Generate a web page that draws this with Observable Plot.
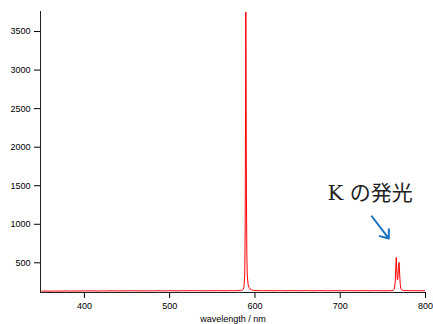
<!DOCTYPE html>
<html>
<head>
<meta charset="utf-8">
<script src="https://cdn.jsdelivr.net/npm/d3@7"></script>
<script src="https://cdn.jsdelivr.net/npm/@observablehq/plot@0.6"></script>
<style>
  html, body { margin: 0; padding: 0; background: #fff; }
  #chart svg { overflow: visible; display: block; }
</style>
</head>
<body>
<div id="chart"></div>
<script>
// Emission spectrum (wavelength in nm, intensity in counts)
const wavelength = [
  350, 355, 360, 365, 370, 375, 380, 385, 390, 395, 400, 405, 410, 415, 420, 425,
  430, 435, 440, 445, 450, 455, 460, 465, 470, 475, 480, 485, 490, 495, 500, 505,
  510, 515, 520, 525, 530, 535, 540, 545, 550, 555, 560, 565, 570, 575, 580, 583,
  585, 586, 587, 588, 588.5, 589, 589.3, 589.6, 590, 590.5, 591, 592, 593, 594,
  596, 598, 600, 605, 610, 615, 620, 625, 630, 635, 640, 645, 650, 655, 660, 665,
  670, 675, 680, 685, 690, 695, 700, 705, 710, 715, 720, 725, 730, 735, 740, 745,
  750, 755, 760, 762, 763.5, 764.5, 765.2, 765.7, 766.3, 767, 767.6, 768.3, 769,
  769.6, 770.3, 771, 772, 774, 776, 780, 785, 790, 795, 800
];
const intensity = [
  133, 134, 132, 135, 133, 134, 136, 133, 135, 134, 136, 135, 137, 134, 136, 135,
  137, 136, 135, 137, 136, 138, 136, 137, 135, 137, 136, 138, 137, 136, 138, 137,
  136, 138, 137, 139, 137, 138, 136, 138, 137, 139, 138, 137, 139, 138, 140, 142,
  146, 155, 180, 330, 900, 2600, 3755, 2900, 1400, 600, 330, 220, 180, 162,
  150, 143, 140, 139, 138, 139, 137, 138, 139, 137, 138, 139, 138, 137, 139, 138,
  137, 139, 138, 137, 138, 139, 137, 138, 139, 138, 137, 139, 138, 137, 139, 138,
  137, 138, 139, 142, 158, 250, 450, 570, 420, 280, 300, 440, 505,
  380, 230, 170, 150, 141, 139, 138, 139, 137, 138, 137
];

const xTicks = [400, 500, 600, 700, 800];
const yTicks = [500, 1000, 1500, 2000, 2500, 3000, 3500];
const xDomain = [348.5, 800];
const yDomain = [115, 3760];
const xLabel = "wavelength / nm";

// Annotation
const noteText = ["K の発光"];
const noteX = [735];
const noteY = [1400];
const arrowFrom = [[737, 1104]];
const arrowTo = [[757, 815]];

const spectrum = wavelength.map((w, i) => ({w, v: intensity[i]}));
const notes = noteText.map((t, i) => ({t, x: noteX[i], y: noteY[i]}));
const arrows = arrowFrom.map((f, i) => ({x1: f[0], y1: f[1], x2: arrowTo[i][0], y2: arrowTo[i][1]}));

const chart = Plot.plot({
  width: 433,
  height: 324,
  marginLeft: 40,
  marginRight: 8,
  marginTop: 11,
  marginBottom: 32,
  style: {fontFamily: "'Liberation Sans', Arial, sans-serif", fontSize: "9px", background: "#fff", color: "#000"},
  x: {domain: xDomain, ticks: xTicks, tickSize: 6, tickPadding: 4, tickFormat: d3.format("d"),
      label: xLabel, labelArrow: "none", labelAnchor: "center", labelOffset: 29},
  y: {domain: yDomain, ticks: yTicks, tickSize: 6, tickPadding: 4, tickFormat: d3.format("d"), label: null},
  marks: [
    Plot.ruleX([xDomain[0]], {stroke: "#222", strokeWidth: 1}),
    Plot.ruleY([yDomain[0]], {stroke: "#222", strokeWidth: 1}),
    Plot.line(spectrum, {x: "w", y: "v", stroke: "#ff0000", strokeWidth: 1, clip: true}),
    Plot.arrow(arrows, {x1: "x1", y1: "y1", x2: "x2", y2: "y2", stroke: "#1a72c2", strokeWidth: 2, headLength: 11, headAngle: 75}),
    Plot.text(notes, {x: "x", y: "y", text: "t", fontSize: 21, fill: "#222", textAnchor: "middle", lineAnchor: "middle", fontFamily: "'DejaVu Serif', 'Liberation Serif', 'Noto Sans CJK JP', serif"})
  ]
});
document.getElementById("chart").appendChild(chart);
</script>
</body>
</html>
